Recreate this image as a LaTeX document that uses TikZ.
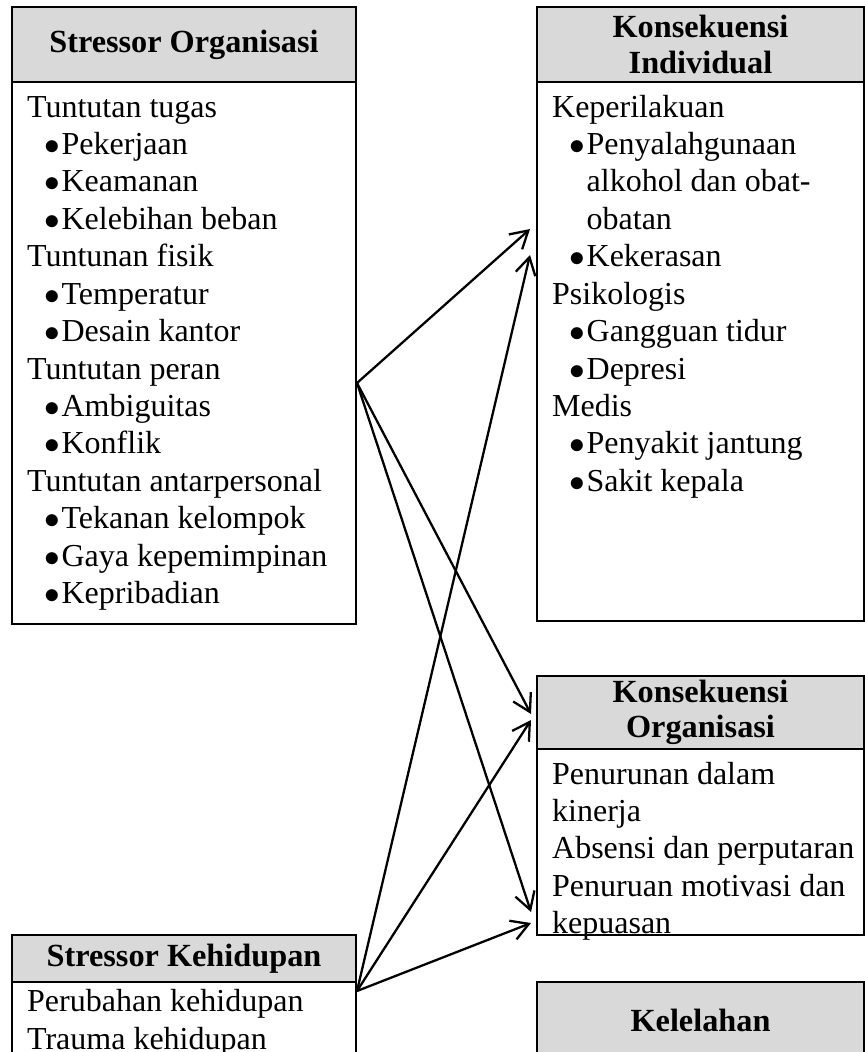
\documentclass[tikz,border=0pt]{standalone}
\usepackage{fontspec}
\setmainfont{Liberation Serif}
\usepackage{tikz}
\usetikzlibrary{arrows.meta,positioning,calc}
\definecolor{headgray}{RGB}{217,217,217}
\newcommand{\itm}{\hspace*{6pt}$\bullet$\hspace{0.6pt}}
\newcommand{\itmcont}{\hspace*{6pt}\phantom{$\bullet$}\hspace{0.6pt}}

\begin{document}
\begin{tikzpicture}[
  x=0.35pt, y=-0.35pt,
  head/.style={draw, line width=0.9pt, fill=headgray, outer sep=0pt, inner sep=0pt,
    align=center, font=\fontsize{11.3}{12.3}\selectfont\bfseries},
  lefthead/.style={head, minimum width=120.4pt},
  righthead/.style={head, minimum width=114.45pt},
  body/.style={draw, line width=0.9pt, outer sep=0pt, inner xsep=0pt, inner ysep=3.1pt,
    font=\fontsize{11.2}{13.1}\selectfont},
  flow/.style={-{Straight Barb[length=6pt,width=7pt]}, line width=0.8pt}
]
\useasboundingbox (0,0) rectangle (865,1052);
\clip (0,0) rectangle (865,1052);

% stressors (left)
\node[lefthead, minimum height=26.25pt, anchor=north west] (orghead) at (12,7) {Stressor Organisasi};
\node[body, below=0pt of orghead] (orgbody) {\parbox[t][183.5pt][t]{120.4pt}{\raggedright\leftskip=5.3pt\strut
  Tuntutan tugas\\
  \itm Pekerjaan\\
  \itm Keamanan\\
  \itm Kelebihan beban\\
  Tuntunan fisik\\
  \itm Temperatur\\
  \itm Desain kantor\\
  Tuntutan peran\\
  \itm Ambiguitas\\
  \itm Konflik\\
  Tuntutan antarpersonal\\
  \itm Tekanan kelompok\\
  \itm Gaya kepemimpinan\\
  \itm Kepribadian}};

\node[lefthead, minimum height=16.45pt, anchor=north west] (lifehead) at (12,935) {Stressor Kehidupan};
\node[body, inner ysep=1.2pt, below=0pt of lifehead] (lifebody) {\parbox[t][33pt][t]{120.4pt}{\raggedright\leftskip=5.3pt\strut
  Perubahan kehidupan\\
  Trauma kehidupan}};

% konsekuensi (right)
\node[righthead, minimum height=26.25pt, anchor=north west] (indhead) at (537,7) {Konsekuensi\\Individual};
\node[body, below=0pt of indhead] (indbody) {\parbox[t][182.45pt][t]{114.45pt}{\raggedright\leftskip=5.3pt\strut
  Keperilakuan\\
  \itm Penyalahgunaan\\
  \itmcont alkohol dan obat-\\
  \itmcont obatan\\
  \itm Kekerasan\\
  Psikologis\\
  \itm Gangguan tidur\\
  \itm Depresi\\
  Medis\\
  \itm Penyakit jantung\\
  \itm Sakit kepala}};

\node[righthead, minimum height=25.55pt, anchor=north west] (konhead) at (537,676) {Konsekuensi\\Organisasi};
\node[body, below=0pt of konhead] (konbody) {\parbox[t][58.9pt][t]{114.45pt}{\raggedright\leftskip=5.3pt\strut
  Penurunan dalam\\
  kinerja\\
  Absensi dan perputaran\\
  Penuruan motivasi dan\\
  kepuasan}};

\node[righthead, minimum height=26.6pt, anchor=north west] (lelahhead) at (537,982) {Kelelahan};

% arrow ends
\coordinate (outA) at ($(orgbody.north east)+(1,301)$);
\coordinate (outB) at ($(lifebody.north east)+(1,9)$);
\coordinate (inA1) at ($(indbody.north west)+(-7,147)$);
\coordinate (inB1) at ($(indbody.north west)+(-7,173)$);
\coordinate (inA2) at ($(konhead.north west)+(-6,38)$);
\coordinate (inB2) at ($(konhead.north west)+(-6,44)$);
\coordinate (inA3) at ($(konbody.north west)+(-6,163)$);
\coordinate (inB3) at ($(konbody.north west)+(-6,174)$);

\draw[flow] (outA) -- (inA1);
\draw[flow] (outA) -- (inA2);
\draw[flow] (outA) -- (inA3);
\draw[flow] (outB) -- (inB1);
\draw[flow] (outB) -- (inB2);
\draw[flow] (outB) -- (inB3);
\end{tikzpicture}
\end{document}
